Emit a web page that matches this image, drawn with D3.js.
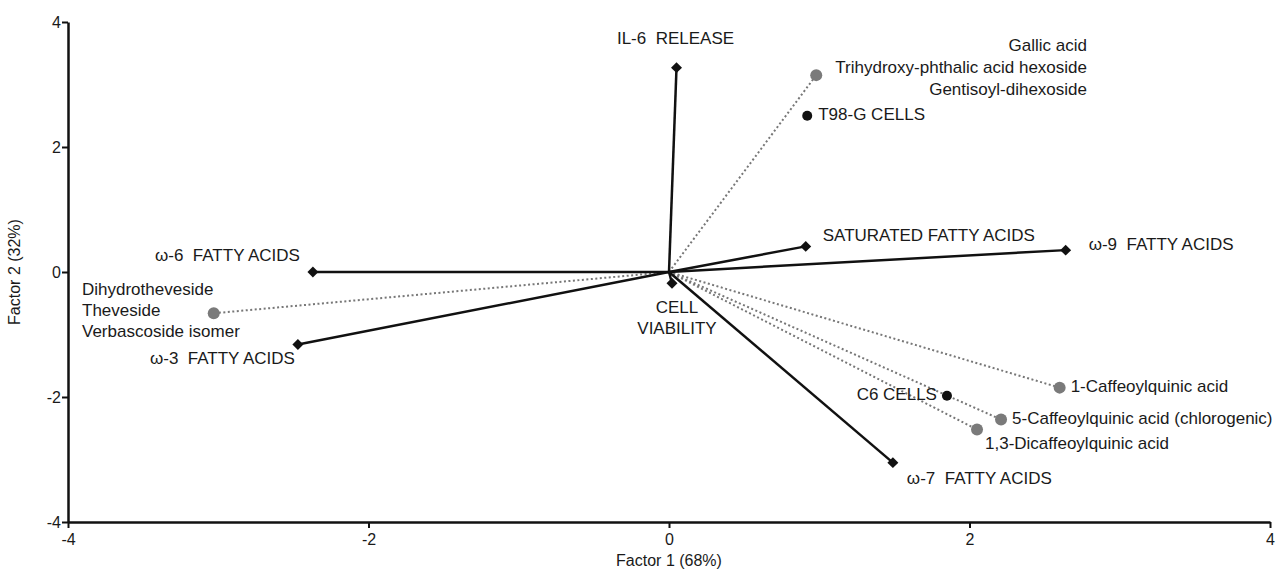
<!DOCTYPE html>
<html><head><meta charset="utf-8">
<script src="https://cdn.jsdelivr.net/npm/d3@7"></script>
<style>body{margin:0;background:#fff}svg text{font-family:"Liberation Sans",Arial,sans-serif;fill:#1a1a1a}</style>
</head><body>
<svg id="c" width="1285" height="571"></svg>
<script>
// Vectors (variables) drawn as solid lines ending in diamonds
const vecNames = ["IL-6  RELEASE","ω-6  FATTY ACIDS","ω-3  FATTY ACIDS","SATURATED FATTY ACIDS","ω-9  FATTY ACIDS","CELL VIABILITY","ω-7  FATTY ACIDS"];
const vecX = [0.05,-2.37,-2.47,0.91,2.64,0.02,1.49];
const vecY = [3.27,0.0,-1.16,0.41,0.35,-0.18,-3.05];
// Compound groups drawn as dotted lines ending in grey circles
const cmpNames = [["Gallic acid","Trihydroxy-phthalic acid hexoside","Gentisoyl-dihexoside"],["Dihydrotheveside","Theveside","Verbascoside isomer"],["1-Caffeoylquinic acid"],["5-Caffeoylquinic acid (chlorogenic)"],["1,3-Dicaffeoylquinic acid"]];
const cmpX = [0.98,-3.03,2.60,2.21,2.05];
const cmpY = [3.15,-0.66,-1.85,-2.36,-2.52];
// Cell lines (black dots)
const cellNames = ["T98-G CELLS","C6 CELLS"];
const cellX = [0.92,1.85];
const cellY = [2.5,-1.98];
const ticks = [-4,-2,0,2,4];

const svg = d3.select("#c");
const x = d3.scaleLinear().domain([-4,4]).range([68,1270]);
const y = d3.scaleLinear().domain([-4,4]).range([522,22]);

const fmt = d => String(d);
const xa = svg.append("g").attr("transform","translate(0,522)").call(d3.axisBottom(x).tickValues(ticks).tickSize(6).tickSizeOuter(0).tickFormat(fmt));
const ya = svg.append("g").attr("transform","translate(68,0)").call(d3.axisLeft(y).tickValues(ticks).tickSize(6).tickSizeOuter(0).tickFormat(fmt));
[xa,ya].forEach(a=>{a.select(".domain").attr("stroke","#111").attr("stroke-width",2.5);a.selectAll(".tick line").attr("stroke","#111").attr("stroke-width",2);a.selectAll("text").style("font-size","16px").attr("fill","#1a1a1a");});
xa.selectAll("text").attr("dy","0.85em");
ya.selectAll("text").attr("x",-7);

svg.append("text").attr("x",669).attr("y",566).attr("text-anchor","middle").style("font-size","16px").text("Factor 1 (68%)");
svg.append("text").attr("transform","translate(20,272) rotate(-90)").attr("text-anchor","middle").style("font-size","16px").text("Factor 2 (32%)");

const ox=x(0), oy=y(0);
// dotted lines
cmpX.forEach((v,i)=>{
  svg.append("line").attr("x1",ox).attr("y1",oy).attr("x2",x(v)).attr("y2",y(cmpY[i])).attr("stroke","#777").attr("stroke-width",2).attr("stroke-dasharray","2,2.5");
});
// solid vectors
vecX.forEach((v,i)=>{
  svg.append("line").attr("x1",ox).attr("y1",oy).attr("x2",x(v)).attr("y2",y(vecY[i])).attr("stroke","#111").attr("stroke-width",2.5);
});
const dia = d3.symbol().type(d3.symbolSquare).size(60);
vecX.forEach((v,i)=>{
  svg.append("path").attr("d",dia).attr("transform",`translate(${x(v)},${y(vecY[i])}) rotate(45)`).attr("fill","#111");
});
cmpX.forEach((v,i)=>{
  svg.append("circle").attr("cx",x(v)).attr("cy",y(cmpY[i])).attr("r",6).attr("fill","#7a7a7a");
});
cellX.forEach((v,i)=>{
  svg.append("circle").attr("cx",x(v)).attr("cy",y(cellY[i])).attr("r",5).attr("fill","#111");
});

function lab(t,px,py,anchor){svg.append("text").attr("x",px).attr("y",py).attr("text-anchor",anchor||"start").attr("dominant-baseline","middle").style("font-size","17px").style("white-space","pre").text(t);}
// vector labels
const vp = vecX.map((v,i)=>[x(v),y(vecY[i])]);
lab(vecNames[0], vp[0][0]-1, vp[0][1]-28, "middle");
lab(vecNames[1], vp[1][0]-13, vp[1][1]-15, "end");
lab(vecNames[2], vp[2][0]-3, vp[2][1]+15, "end");
lab(vecNames[3], vp[3][0]+17, vp[3][1]-10);
lab(vecNames[4], vp[4][0]+23, vp[4][1]-5);
lab("CELL", vp[5][0]+5, vp[5][1]+25, "middle");
lab("VIABILITY", vp[5][0]+5, vp[5][1]+46, "middle");
lab(vecNames[6], vp[6][0]+14, vp[6][1]+17);
// compound labels
const cp = cmpX.map((v,i)=>[x(v),y(cmpY[i])]);
cmpNames[0].forEach((t,j)=>lab(t,1087,cp[0][1]-29+j*22,"end"));
cmpNames[1].forEach((t,j)=>lab(t,82,cp[1][1]-23+j*21,"start"));
lab(cmpNames[2][0], cp[2][0]+11, cp[2][1]);
lab(cmpNames[3][0], cp[3][0]+11, cp[3][1]);
lab(cmpNames[4][0], cp[4][0]+8, cp[4][1]+15);
// cell labels
const ep = cellX.map((v,i)=>[x(v),y(cellY[i])]);
lab(cellNames[0], ep[0][0]+11, ep[0][1]);
lab(cellNames[1], ep[1][0]-10, ep[1][1], "end");
</script>
</body></html>
